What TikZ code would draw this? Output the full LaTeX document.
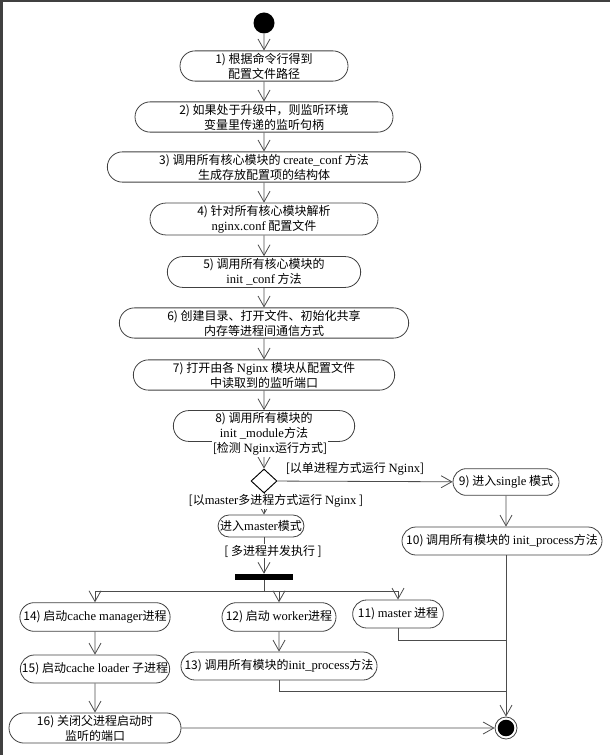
\documentclass[tikz,border=0pt]{standalone}
\usepackage{fontspec}
\setmainfont{Noto Sans CJK SC}
\newfontfamily\enfont[Scale=1.05]{Liberation Serif}
\newcommand{\en}[1]{{\enfont #1}}
\newcommand{\rp}{)\kern2pt}
\usetikzlibrary{shapes.misc,shapes.geometric,arrows.meta}

\begin{document}
\begin{tikzpicture}[x=0.75pt,y=0.75pt,yscale=-1,xscale=1,
  act/.style={draw=black!75,line width=0.6pt,rounded rectangle,align=center,
    minimum height=21.5pt,inner sep=1.5pt,font=\fontsize{9}{11.3}\selectfont},
  flow/.style={draw=black!70,line width=0.6pt,-{Straight Barb[length=8pt,width=9pt]}},
  link/.style={draw=black!70,line width=0.6pt},
  guard/.style={fill=white,inner sep=0.8pt,font=\fontsize{9}{11}\selectfont},
  startdot/.style={circle,fill=black,minimum size=15.75pt,inner sep=0pt},
  enddot/.style={circle,draw=black!75,line width=0.6pt,minimum size=16.5pt,inner sep=0pt,
    path picture={\fill[black] (path picture bounding box.center) circle (6.2pt);}},
  choice/.style={diamond,draw=black,line width=0.7pt,minimum width=19.5pt,minimum height=18pt,inner sep=0pt},
  forkbar/.style={rectangle,fill=black,minimum width=43.5pt,minimum height=4.5pt,inner sep=0pt}
]
\useasboundingbox (0,0) rectangle (610,755);
% frame edges
\fill[black!75] (0,0) rectangle (610,2.5);
\fill[black!75] (0,0) rectangle (2.5,755);

% Start
\node[startdot] (start) at (264,23) {};
% Main sequence
\node[act,minimum width=129pt] (n1) at (264,66) {1\rp 根据命令行得到\\配置文件路径};
\node[act,minimum width=196.5pt] (n2) at (264,117) {2\rp 如果处于升级中，则监听环境\\变量里传递的监听句柄};
\node[act,minimum width=238pt] (n3) at (264,167) {3\rp 调用所有核心模块的 \en{create\_conf} 方法\\生成存放配置项的结构体};
\node[act,minimum width=174pt] (n4) at (264,219) {4\rp 针对所有核心模块解析\\\en{nginx.conf} 配置文件};
\node[act,minimum width=148pt] (n5) at (264,272) {5\rp 调用所有核心模块的\\\en{init \_conf} 方法};
\node[act,minimum width=220pt] (n6) at (264,323) {6\rp 创建目录、打开文件、初始化共享\\内存等进程间通信方式};
\node[act,minimum width=199pt] (n7) at (264,375) {7\rp 打开由各 \en{Nginx} 模块从配置文件\\中读取到的监听端口};
\node[act,minimum width=139pt] (n8) at (264,426) {8\rp 调用所有模块的\\\en{init \_module}方法};

% Decision
\node[choice] (dia) at (264,481) {};
\node[act,minimum width=82.5pt,minimum height=20pt] (n9) at (506,482) {9\rp 进入\en{single} 模式};
\node[act,minimum width=153pt,minimum height=21pt] (n10) at (502,541) {10\rp 调用所有模块的 \en{init\_process}方法};
\node[act,minimum width=58.5pt,minimum height=16.5pt,inner sep=0.5pt] (master) at (261,526) {进入\en{master}模式};

% Fork
\node[forkbar] (bar) at (264,577) {};
\coordinate (fork) at (264,591);
\node[act,minimum width=112.5pt] (n14) at (95,617) {14\rp 启动\en{cache manager}进程};
\node[act,minimum width=88.5pt] (n12) at (279,617) {12\rp 启动 \en{worker}进程};
\node[act,minimum width=71pt,minimum height=21pt] (n11) at (398,614) {11\rp \en{master} 进程};
\node[act,minimum width=115pt,minimum height=21pt] (n15) at (95,669) {15\rp 启动\en{cache loader} 子进程};
\node[act,minimum width=147pt,minimum height=21pt] (n13) at (279,666) {13\rp 调用所有模块的\en{init\_process}方法};
\node[act,minimum width=132pt] (n16) at (95,728) {16\rp 关闭父进程启动时\\监听的端口};

% End
\node[enddot] (endc) at (506,728) {};
\coordinate (j1) at (506,640);
\coordinate (j2) at (506,691);

% Connectors
\draw[flow] (start) -- (n1);
\draw[flow] (n1) -- (n2);
\draw[flow] (n2) -- (n3);
\draw[flow] (n3) -- (n4);
\draw[flow] (n4) -- (n5);
\draw[flow] (n5) -- (n6);
\draw[flow] (n6) -- (n7);
\draw[flow] (n7) -- (n8);
\draw[flow] (n8) -- (dia);
\draw[flow] (dia) -- (n9);
\draw[flow] (n9) -- (n9 |- n10.north);
\draw[flow] (dia) -- (master.north -| dia);
\draw[flow] (master.south -| dia) -- (bar);
\draw[link] (bar) -- (fork);
\draw[flow] (fork) -| (n14);
\draw[flow] (fork) -| (n12);
\draw[flow] (fork) -| (n11);
\draw[flow] (n14) -- (n15);
\draw[flow] (n15) -- (n16);
\draw[flow] (n12) -- (n13);
\draw[flow] (n10.south -| endc) -- (endc);
\draw[link] (n11.south) |- (j1);
\draw[link] (n13.south) |- (j2);
\draw[flow] (n16) -- (endc);

% Guards
\node[guard] (gdetect) at (270,449) {[检测 \en{Nginx}运行方式]};
\node[guard,fill=none] (gsingle) at (355,469) {[以单进程方式运行 \en{Nginx}]};
\node[guard] (gmaster) at (276,501) {[以\en{master}多进程方式运行 \en{Nginx} ]};
\node[guard] (gconc) at (273,551) {[ 多进程并发执行 ]};
\end{tikzpicture}
\end{document}
